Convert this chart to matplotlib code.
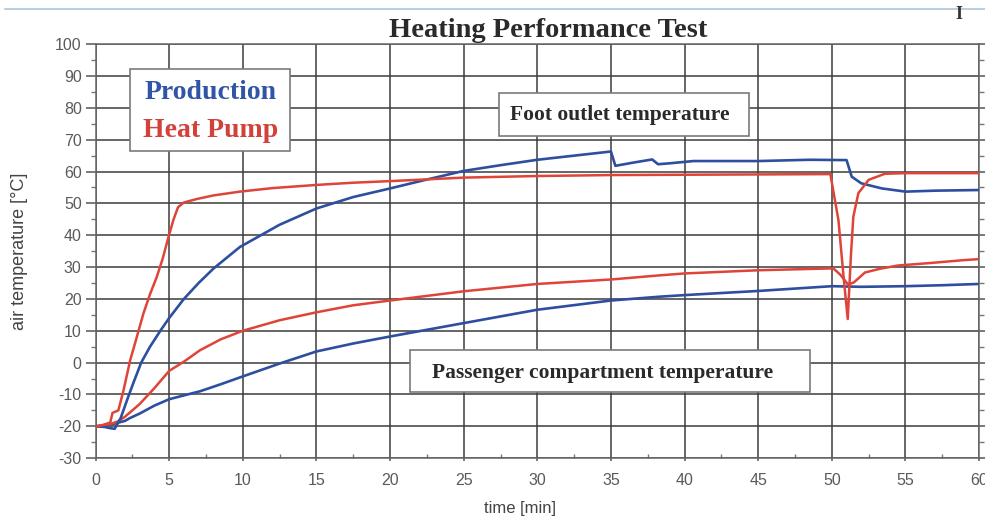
import matplotlib
matplotlib.use("Agg")
import matplotlib.pyplot as plt
from matplotlib.lines import Line2D
from matplotlib.patches import Rectangle
from matplotlib.ticker import MultipleLocator

plt.rcParams['font.family'] = ['Liberation Sans', 'DejaVu Sans']
plt.rcParams['axes.unicode_minus'] = False

# foot outlet temperature, heat pump vehicle
hp_foot_t = [0, 0.5, 1.0, 1.15, 1.55, 1.9, 2.35, 2.8, 3.25, 3.7, 4.15, 4.55, 4.95, 5.3, 5.6,
             6.0, 6.9, 8, 9.8, 12, 15, 17.5, 20, 25, 30, 35, 40, 45, 49.9, 50.45, 50.8, 51.08,
             51.3, 51.46, 51.8, 52.5, 53.6, 55, 60]
hp_foot_v = [-20.2, -19.6, -18.8, -15.8, -15, -8.7, 0.7, 8, 15.4, 21.5, 26.8, 32.5, 39.4, 45, 48.8,
             50.3, 51.4, 52.5, 53.7, 54.8, 55.8, 56.5, 57, 58.1, 58.6, 58.9, 59, 59.1, 59.2, 44.7, 26.8, 13.7,
             34, 45.8, 53.2, 57.4, 59.3, 59.5, 59.5]

# foot outlet temperature, production vehicle
prod_foot_t = [0, 0.6, 1.0, 1.3, 1.7, 2.2, 2.6, 3.1, 3.7, 4.4, 5.0, 6, 7, 8, 9.8, 12.5, 15, 17.5,
               20, 22.5, 25, 27.5, 30, 32.5, 35.0, 35.3, 36.5, 37.8, 38.2, 39, 40.6, 45, 48.5,
               51.0, 51.35, 52, 53.4, 55, 57, 60]
prod_foot_v = [-20, -20.2, -20.6, -20.8, -17.5, -11, -6, 0, 5, 10, 14, 20, 25, 29.5, 36.3, 43.3, 48.4, 52,
               54.7, 57.5, 60.2, 62, 63.7, 65, 66.3, 61.8, 62.8, 63.8, 62.3, 62.6, 63.3, 63.3, 63.7,
               63.6, 58.4, 56.3, 54.7, 53.7, 54, 54.2]

# passenger compartment temperature, heat pump vehicle
hp_cabin_t = [0, 1, 1.5, 2, 3, 4, 5, 6, 7.1, 8.5, 10, 12.5, 15, 17.5, 20, 25, 30, 35, 38.3, 40,
              45, 50.1, 50.6, 51.1, 51.5, 52.25, 53.3, 54.5, 56.75, 59, 60]
hp_cabin_v = [-20, -19.3, -18.5, -17, -13, -8, -2.6, 0.3, 3.9, 7.3, 10, 13.3, 15.8, 18, 19.5, 22.4, 24.7,
              26.1, 27.4, 28, 29, 29.6, 27.5, 24.5, 25.2, 28.3, 29.5, 30.5, 31.3, 32.2, 32.5]

# passenger compartment temperature, production vehicle
prod_cabin_t = [0, 1, 2, 2.3, 3, 4, 5, 6, 7.1, 8.5, 9.9, 12.5, 15, 17.5, 20, 25, 30, 35, 38.3, 40,
                45, 50, 52, 55, 57.5, 60]
prod_cabin_v = [-20, -19.5, -18.3, -17.5, -16, -13.5, -11.5, -10.3, -9, -6.8, -4.5, -0.3, 3.5, 6, 8.2,
                12.4, 16.6, 19.5, 20.7, 21.2, 22.5, 24, 23.8, 24, 24.3, 24.7]

BLUE = '#2e4f9f'
RED = '#df4439'
GRID = '#3c3c3c'
TICK = '#5a5a5a'
SERIF = ['Liberation Serif', 'DejaVu Serif']

fig = plt.figure(figsize=(9.85, 5.2), dpi=100)
ax = fig.add_axes([0.097, 0.119, 0.897, 0.796])

ax.plot(prod_cabin_t, prod_cabin_v, color=BLUE, lw=1.9, zorder=3)
ax.plot(hp_cabin_t, hp_cabin_v, color=RED, lw=1.8, zorder=3)
ax.plot(prod_foot_t, prod_foot_v, color=BLUE, lw=1.9, zorder=3)
ax.plot(hp_foot_t, hp_foot_v, color=RED, lw=1.8, zorder=3)

ax.set_xlim(0, 60)
ax.set_ylim(-30, 100)
ax.xaxis.set_major_locator(MultipleLocator(5))
ax.xaxis.set_minor_locator(MultipleLocator(2.5))
ax.yaxis.set_major_locator(MultipleLocator(10))
ax.yaxis.set_minor_locator(MultipleLocator(5))
ax.grid(True, which='major', color=GRID, lw=1.1, zorder=1)

for side in ['left', 'bottom', 'right', 'top']:
    ax.spines[side].set_color('#666666')
    ax.spines[side].set_linewidth(1.1)

ax.tick_params(axis='y', which='major', direction='out', length=7, width=1.1, color='#555555',
               pad=3, labelsize=11.5, labelcolor=TICK, right=True)
ax.tick_params(axis='y', which='minor', direction='out', length=3.5, width=1, color='#777777', right=True)
ax.tick_params(axis='x', which='major', direction='out', length=2, width=1.1, color='#555555',
               pad=9, labelsize=11.5, labelcolor=TICK)
ax.tick_params(axis='x', which='minor', direction='in', length=3, width=1, color='#777777')

ax.set_xlabel('time [min]', fontsize=12, color='#444444')
ax.xaxis.set_label_coords(0.48, -0.103)
ax.set_ylabel('air temperature [°C]', fontsize=13, color='#444444')
ax.yaxis.set_label_coords(-0.076, 0.5)

fig.text(0.557, 0.942, 'Heating Performance Test', ha='center', va='center', fontsize=20.5,
         fontweight='bold', family=SERIF, color='#2a2a2a')

# series key in the upper left corner
ax.add_patch(Rectangle((2.35, 66.6), 10.85, 25.7, facecolor='white', edgecolor='#7a7a7a',
                       lw=1.2, zorder=5))
ax.text(7.8, 84.7, 'Production', ha='center', va='center', fontsize=20, fontweight='bold',
        family=SERIF, color='#3155a6', zorder=6)
ax.text(7.8, 72.8, 'Heat Pump', ha='center', va='center', fontsize=20, fontweight='bold',
        family=SERIF, color='#d2423a', zorder=6)

# labels for the two groups of curves
ax.add_patch(Rectangle((27.4, 71.2), 17.0, 13.5, facecolor='white', edgecolor='#7a7a7a',
                       lw=1.2, zorder=5))
ax.text(35.6, 77.8, 'Foot outlet temperature', ha='center', va='center', fontsize=15.5,
        fontweight='bold', family=SERIF, color='#2a2a2a', zorder=6)
ax.add_patch(Rectangle((21.35, -9.2), 27.15, 13.1, facecolor='white', edgecolor='#7a7a7a',
                       lw=1.2, zorder=5))
ax.text(34.4, -3.4, 'Passenger compartment temperature', ha='center', va='center', fontsize=15.5,
        fontweight='bold', family=SERIF, color='#2a2a2a', zorder=6)

# page header rule and stray glyph above the chart
fig.add_artist(Line2D([0.005, 1.0], [0.983, 0.983], color='#a9c7df', lw=1.2))
fig.text(0.973, 0.972, 'I', ha='center', va='center', fontsize=13, fontweight='bold',
         family=SERIF, color='#333333')

fig.savefig('out.png', dpi=100)
